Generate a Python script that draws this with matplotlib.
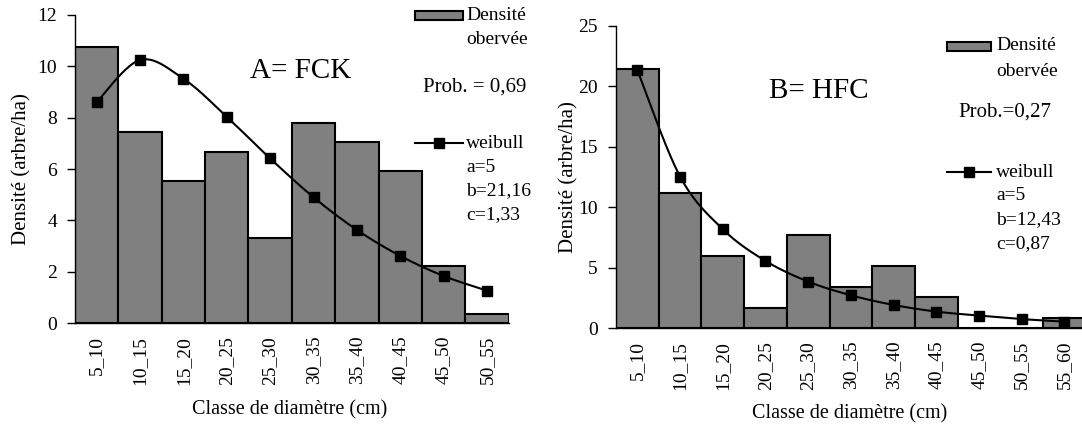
import numpy as np
import matplotlib
matplotlib.use("Agg")
import matplotlib.pyplot as plt
from matplotlib.patches import Rectangle
from matplotlib.lines import Line2D

plt.rcParams['font.family'] = ['Liberation Serif', 'DejaVu Serif']

# --- data ---
classes_a = ["5_10", "10_15", "15_20", "20_25", "25_30", "30_35", "35_40", "40_45", "45_50", "50_55"]
obs_a = [10.75, 7.42, 5.55, 6.68, 3.33, 7.78, 7.04, 5.93, 2.21, 0.36]
weib_a = [8.60, 10.24, 9.51, 8.03, 6.41, 4.90, 3.63, 2.62, 1.84, 1.27]
params_a = ["a=5", "b=21,16", "c=1,33"]

classes_b = ["5_10", "10_15", "15_20", "20_25", "25_30", "30_35", "35_40", "40_45", "45_50", "50_55", "55_60"]
obs_b = [21.39, 11.14, 5.98, 1.71, 7.69, 3.45, 5.13, 2.58, 0.0, 0.0, 0.85]
weib_b = [21.33, 12.54, 8.19, 5.57, 3.86, 2.73, 1.93, 1.38, 1.05, 0.76, 0.55]
params_b = ["a=5", "b=12,43", "c=0,87"]

W, H = 1082, 426
BAR = "#808080"


def smooth(x, y, n=24):
    # Excel-like smoothed line (Catmull-Rom as cubic Bezier)
    p = np.column_stack([x, y]).astype(float)
    out = [p[0]]
    t = np.linspace(0, 1, n)[1:, None]
    for i in range(len(p) - 1):
        p0, p1, p2, p3 = p[max(i - 1, 0)], p[i], p[i + 1], p[min(i + 2, len(p) - 1)]
        c1 = p1 + (p2 - p0) / 6
        c2 = p2 - (p3 - p1) / 6
        seg = (1 - t) ** 3 * p1 + 3 * (1 - t) ** 2 * t * c1 + 3 * (1 - t) * t ** 2 * c2 + t ** 3 * p2
        out.extend(seg)
    out = np.array(out)
    return out[:, 0], out[:, 1]


def fx(px): return px / W
def fy(py): return 1 - py / H


def panel(fig, rect, classes, obs, weib, ymax, ystep, title, tpos, prob, ppos,
          params, leg, ylab, xlab):
    ax = fig.add_axes(rect)
    x = np.arange(len(classes))
    ax.bar(x, obs, width=1.0, color=BAR, edgecolor="black", linewidth=1.5, zorder=2)
    sx, sy = smooth(x, weib)
    ax.plot(sx, sy, color="black", lw=1.5, zorder=3, clip_on=False)
    ax.plot(x, weib, ls="none", marker="s", ms=6.5, color="black", zorder=4, clip_on=False)
    ax.set_xlim(-0.5, len(classes) - 0.5)
    ax.set_ylim(0, ymax)
    ax.set_yticks(np.arange(0, ymax + 0.1, ystep))
    ax.set_xticks(x)
    ax.set_xticklabels(classes, rotation=90, fontsize=14)
    ax.tick_params(axis="x", length=0, pad=9)
    ax.tick_params(axis="y", direction="out", length=6, width=1, pad=7, labelsize=14)
    for s in ("top", "right"):
        ax.spines[s].set_visible(False)
    for s in ("left", "bottom"):
        ax.spines[s].set_linewidth(1.0)
    ax.set_ylabel("Densité (arbre/ha)", fontsize=15)
    ax.yaxis.set_label_coords(*ylab)
    ax.set_xlabel("Classe de diamètre (cm)", fontsize=14.5)
    ax.xaxis.set_label_coords(*xlab)

    fig.text(fx(tpos[0]), fy(tpos[1]), title, fontsize=21, ha="center", va="center")
    fig.text(fx(ppos[0]), fy(ppos[1]), prob, fontsize=15, ha="left", va="center")

    # legend drawn by hand (handles sit on the first text line)
    lx0, lx1, ly_bar, ly_line, tx = leg
    fig.patches.append(Rectangle((fx(lx0), fy(ly_bar + 5)), fx(lx1 - lx0), 9 / H,
                                 facecolor=BAR, edgecolor="black", lw=1.5,
                                 transform=fig.transFigure))
    fig.lines.append(Line2D([fx(lx0), fx(lx1)], [fy(ly_line)] * 2, color="black", lw=1.5,
                            transform=fig.transFigure))
    fig.lines.append(Line2D([fx((lx0 + lx1) / 2)], [fy(ly_line)], marker="s", ms=6.5,
                            color="black", transform=fig.transFigure))
    fig.text(fx(tx), fy(ly_bar), "Densité", fontsize=14, ha="left", va="center")
    fig.text(fx(tx), fy(ly_bar + 25), "obervée", fontsize=14, ha="left", va="center")
    fig.text(fx(tx), fy(ly_line), "weibull", fontsize=14, ha="left", va="center")
    for k, p in enumerate(params):
        fig.text(fx(tx), fy(ly_line + 24 * (k + 1)), p, fontsize=14, ha="left", va="center")
    return ax


fig = plt.figure(figsize=(W / 100, H / 100), dpi=100)

panel(fig, [fx(75), fy(323.3), 433.7 / W, 308.6 / H], classes_a, obs_a, weib_a, 12, 2,
      "A= FCK", (301, 71), "Prob. = 0,69", (423, 87), params_a,
      (415, 463, 15, 143, 466), (-0.101, 0.5), (0.496, -0.25))

panel(fig, [fx(616), fy(328.3), 469.7 / W, 302.6 / H], classes_b, obs_b, weib_b, 25, 5,
      "B= HFC", (819, 91), "Prob.=0,27", (958, 112), params_b,
      (947, 991, 46, 172, 996), (-0.08, 0.5), (0.498, -0.25))

fig.savefig("out.png", dpi=100)
